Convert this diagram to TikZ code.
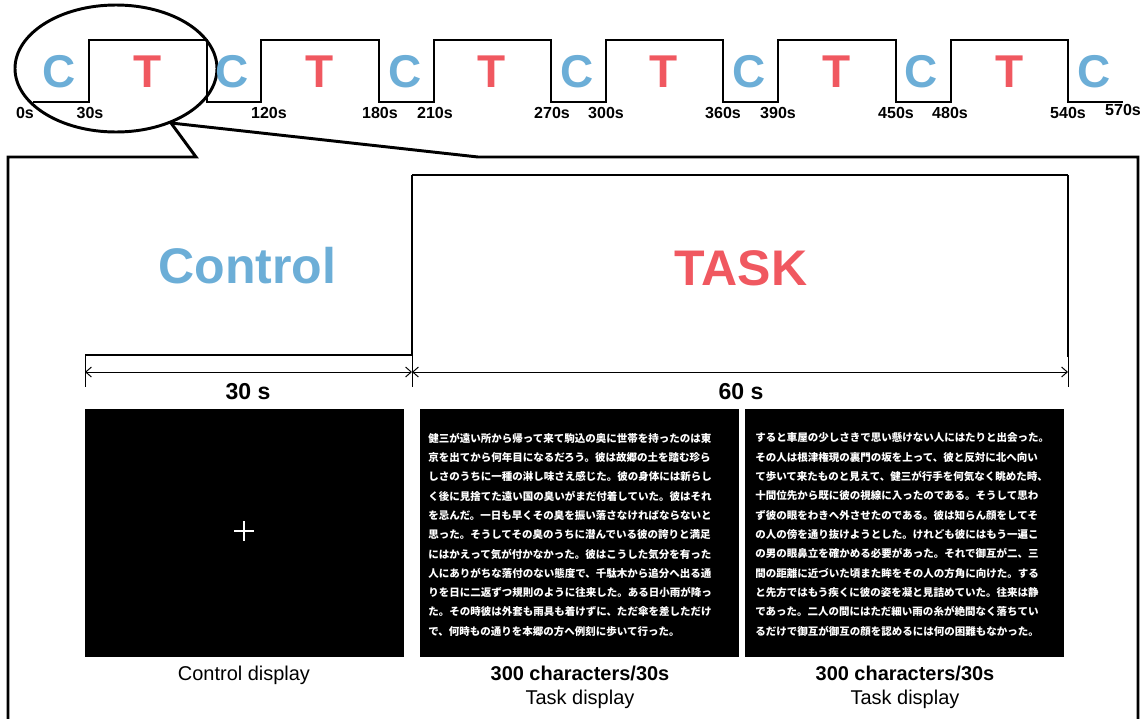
\documentclass[tikz,border=0pt]{standalone}
\usepackage{fontspec}
\setmainfont{Liberation Sans}
\newfontfamily\jpfont{Noto Sans CJK JP}
\usetikzlibrary{arrows.meta}
\pgfdeclarelayer{edgelayer}
\pgfdeclarelayer{nodelayer}
\pgfsetlayers{edgelayer,nodelayer,main}
\definecolor{ctrlblue}{RGB}{108,174,215}
\definecolor{taskred}{RGB}{240,88,96}
\tikzset{font=\fontsize{14.2}{17}\selectfont}
\tikzstyle{none}=[inner sep=0pt]
\tikzstyle{cletter}=[inner sep=0pt,text=ctrlblue,font=\bfseries\fontsize{32.7}{36}\selectfont]
\tikzstyle{tletter}=[inner sep=0pt,text=taskred,font=\bfseries\fontsize{32.7}{36}\selectfont]
\tikzstyle{tlabel}=[inner sep=0pt,font=\bfseries\fontsize{11.4}{13}\selectfont]
\tikzstyle{bigword}=[inner sep=0pt,font=\bfseries\fontsize{35.6}{40}\selectfont]
\tikzstyle{durlabel}=[inner sep=0pt,font=\bfseries\fontsize{16.4}{19}\selectfont]
\tikzstyle{screen}=[fill=black,inner sep=0pt,minimum width=7.975cm,minimum height=6.2cm]
\tikzstyle{jptext}=[inner sep=0pt,anchor=north west,align=left,text=white,font=\jpfont\bfseries\fontsize{7.47}{13.73}\selectfont]
\tikzstyle{caption}=[inner sep=0pt]
\tikzstyle{thick line}=[line width=2.1pt]
\tikzstyle{thin line}=[line width=0.7pt]

\begin{document}
\begin{tikzpicture}
	\useasboundingbox (0,0) rectangle (28.6,-17.95);
	\begin{pgfonlayer}{nodelayer}
		% C / T blocks of the run
		\node [style=cletter] (0) at (1.475,-1.8) {C};
		\node [style=tletter] (1) at (3.7,-1.8) {T};
		\node [style=cletter] (2) at (5.8,-1.8) {C};
		\node [style=tletter] (3) at (8,-1.8) {T};
		\node [style=cletter] (4) at (10.125,-1.8) {C};
		\node [style=tletter] (5) at (12.3,-1.8) {T};
		\node [style=cletter] (6) at (14.425,-1.8) {C};
		\node [style=tletter] (7) at (16.6,-1.8) {T};
		\node [style=cletter] (8) at (18.725,-1.8) {C};
		\node [style=tletter] (9) at (20.925,-1.8) {T};
		\node [style=cletter] (10) at (23.025,-1.8) {C};
		\node [style=tletter] (11) at (25.25,-1.8) {T};
		\node [style=cletter] (12) at (27.35,-1.8) {C};
		% times
		\node [style=tlabel] (20) at (0.625,-2.825) {0s};
		\node [style=tlabel] (21) at (2.25,-2.825) {30s};
		\node [style=tlabel] (22) at (6.725,-2.825) {120s};
		\node [style=tlabel] (23) at (9.5,-2.825) {180s};
		\node [style=tlabel] (24) at (10.875,-2.825) {210s};
		\node [style=tlabel] (25) at (13.8,-2.825) {270s};
		\node [style=tlabel] (26) at (15.15,-2.825) {300s};
		\node [style=tlabel] (27) at (18.075,-2.825) {360s};
		\node [style=tlabel] (28) at (19.45,-2.825) {390s};
		\node [style=tlabel] (29) at (22.4,-2.825) {450s};
		\node [style=tlabel] (30) at (23.75,-2.825) {480s};
		\node [style=tlabel] (31) at (26.7,-2.825) {540s};
		\node [style=tlabel] (32) at (28.075,-2.75) {570s};
		% enlarged block
		\node [style=none] (40) at (2.125,-8.875) {};
		\node [style=none] (41) at (10.3,-8.875) {};
		\node [style=none] (42) at (10.3,-4.375) {};
		\node [style=none] (43) at (26.7,-4.375) {};
		\node [style=none] (44) at (26.7,-8.925) {};
		\node [style=none] (45) at (2.125,-9.675) {};
		\node [style=none] (46) at (10.3,-9.675) {};
		\node [style=none] (47) at (26.7,-9.675) {};
		\node [style=none] (48) at (2.125,-9.3) {};
		\node [style=none] (49) at (10.3,-9.3) {};
		\node [style=none] (50) at (26.7,-9.3) {};
		\node [style=bigword, text=ctrlblue] (51) at (6.1875,-6.65) {Control};
		\node [style=bigword, text=taskred] (52) at (18.525,-6.7) {TASK};
		\node [style=durlabel] (53) at (6.2,-9.8) {30 s};
		\node [style=durlabel] (54) at (18.525,-9.8) {60 s};
		% displays
		\node [style=screen] (60) at (6.1125,-13.325) {};
		\node [style=screen] (61) at (14.4875,-13.325) {};
		\node [style=screen] (62) at (22.6125,-13.325) {};
		\node [style=jptext] (63) at (10.7,-10.818) {健三が遠い所から帰って来て駒込の奥に世帯を持ったのは東\\京を出てから何年目になるだろう。彼は故郷の土を踏む珍ら\\しさのうちに一種の淋し味さえ感じた。彼の身体には新らし\\く後に見捨てた遠い国の臭いがまだ付着していた。彼はそれ\\を忌んだ。一日も早くその臭を振い落さなければならないと\\思った。そうしてその臭のうちに潜んでいる彼の誇りと満足\\にはかえって気が付かなかった。彼はこうした気分を有った\\人にありがちな落付のない態度で、千駄木から追分へ出る通\\りを日に二返ずつ規則のように往来した。ある日小雨が降っ\\た。その時彼は外套も雨具も着けずに、ただ傘を差しただけ\\で、何時もの通りを本郷の方へ例刻に歩いて行った。};
		\node [style=jptext] (64) at (18.875,-10.818) {すると車屋の少しさきで思い懸けない人にはたりと出会った。\\その人は根津権現の裏門の坂を上って、彼と反対に北へ向い\\て歩いて来たものと見えて、健三が行手を何気なく眺めた時、\\十間位先から既に彼の視線に入ったのである。そうして思わ\\ず彼の眼をわきへ外させたのである。彼は知らん顔をしてそ\\の人の傍を通り抜けようとした。けれども彼にはもう一遍こ\\の男の眼鼻立を確かめる必要があった。それで御互が二、三\\間の距離に近づいた頃また眸をその人の方角に向けた。する\\と先方ではもう疾くに彼の姿を凝と見詰めていた。往来は静\\であった。二人の間にはただ細い雨の糸が絶間なく落ちてい\\るだけで御互が御互の顔を認めるには何の困難もなかった。};
		\node [style=caption] (65) at (6.1,-16.875) {Control display};
		\node [style=caption, font=\bfseries\fontsize{14.2}{17}\selectfont] (66) at (14.5,-16.825) {300 characters/30s};
		\node [style=caption] (67) at (14.5,-17.475) {Task display};
		\node [style=caption, font=\bfseries\fontsize{14.2}{17}\selectfont] (68) at (22.625,-16.825) {300 characters/30s};
		\node [style=caption] (69) at (22.625,-17.475) {Task display};
	\end{pgfonlayer}
	\begin{pgfonlayer}{edgelayer}
		% run
		\draw[line width=1.4pt] (0.825,-2.55) -- (2.225,-2.55) -- (2.225,-1) -- (5.163,-1) -- (5.163,-2.55) -- (6.533,-2.55) -- (6.533,-1) -- (9.47,-1) -- (9.47,-2.55) -- (10.84,-2.55) -- (10.84,-1) -- (13.778,-1) -- (13.778,-2.55) -- (15.148,-2.55) -- (15.148,-1) -- (18.085,-1) -- (18.085,-2.55) -- (19.455,-2.55) -- (19.455,-1) -- (22.393,-1) -- (22.393,-2.55) -- (23.763,-2.55) -- (23.763,-1) -- (26.7,-1) -- (26.7,-2.55) -- (28.075,-2.55);
		\draw[style=thick line] (2.9,-1.7125) ellipse [x radius=2.525, y radius=1.5875];
		\draw[style=thick line, line join=miter] (0.2,-18.2) -- (0.2,-3.925) -- (4.9,-3.925) -- (4.275,-3.075) -- (11.95,-3.925) -- (28.45,-3.925) -- (28.45,-18.2);
		% control / task step
		\draw[style=thick line] (40.center) to (41.center);
		\draw[style=thick line] (41.center) to (42.center);
		\draw[style=thick line] (42.center) to (43.center);
		\draw[style=thick line] (43.center) to (44.center);
		\draw[style=thin line] (40.center) to (45.center);
		\draw[style=thin line] (41.center) to (46.center);
		\draw[style=thin line] (44.center) to (47.center);
		\draw[style=thin line, {Straight Barb[length=4pt,width=7pt]}-{Straight Barb[length=4pt,width=7pt]}] (48.center) to (49.center);
		\draw[style=thin line, {Straight Barb[length=4pt,width=7pt]}-{Straight Barb[length=4pt,width=7pt]}] (49.center) to (50.center);
	\end{pgfonlayer}
	% fixation cross
	\draw[white, line width=0.8pt] (5.85,-13.275) -- (6.35,-13.275);
	\draw[white, line width=0.8pt] (6.1,-13.025) -- (6.1,-13.525);
\end{tikzpicture}
\end{document}
